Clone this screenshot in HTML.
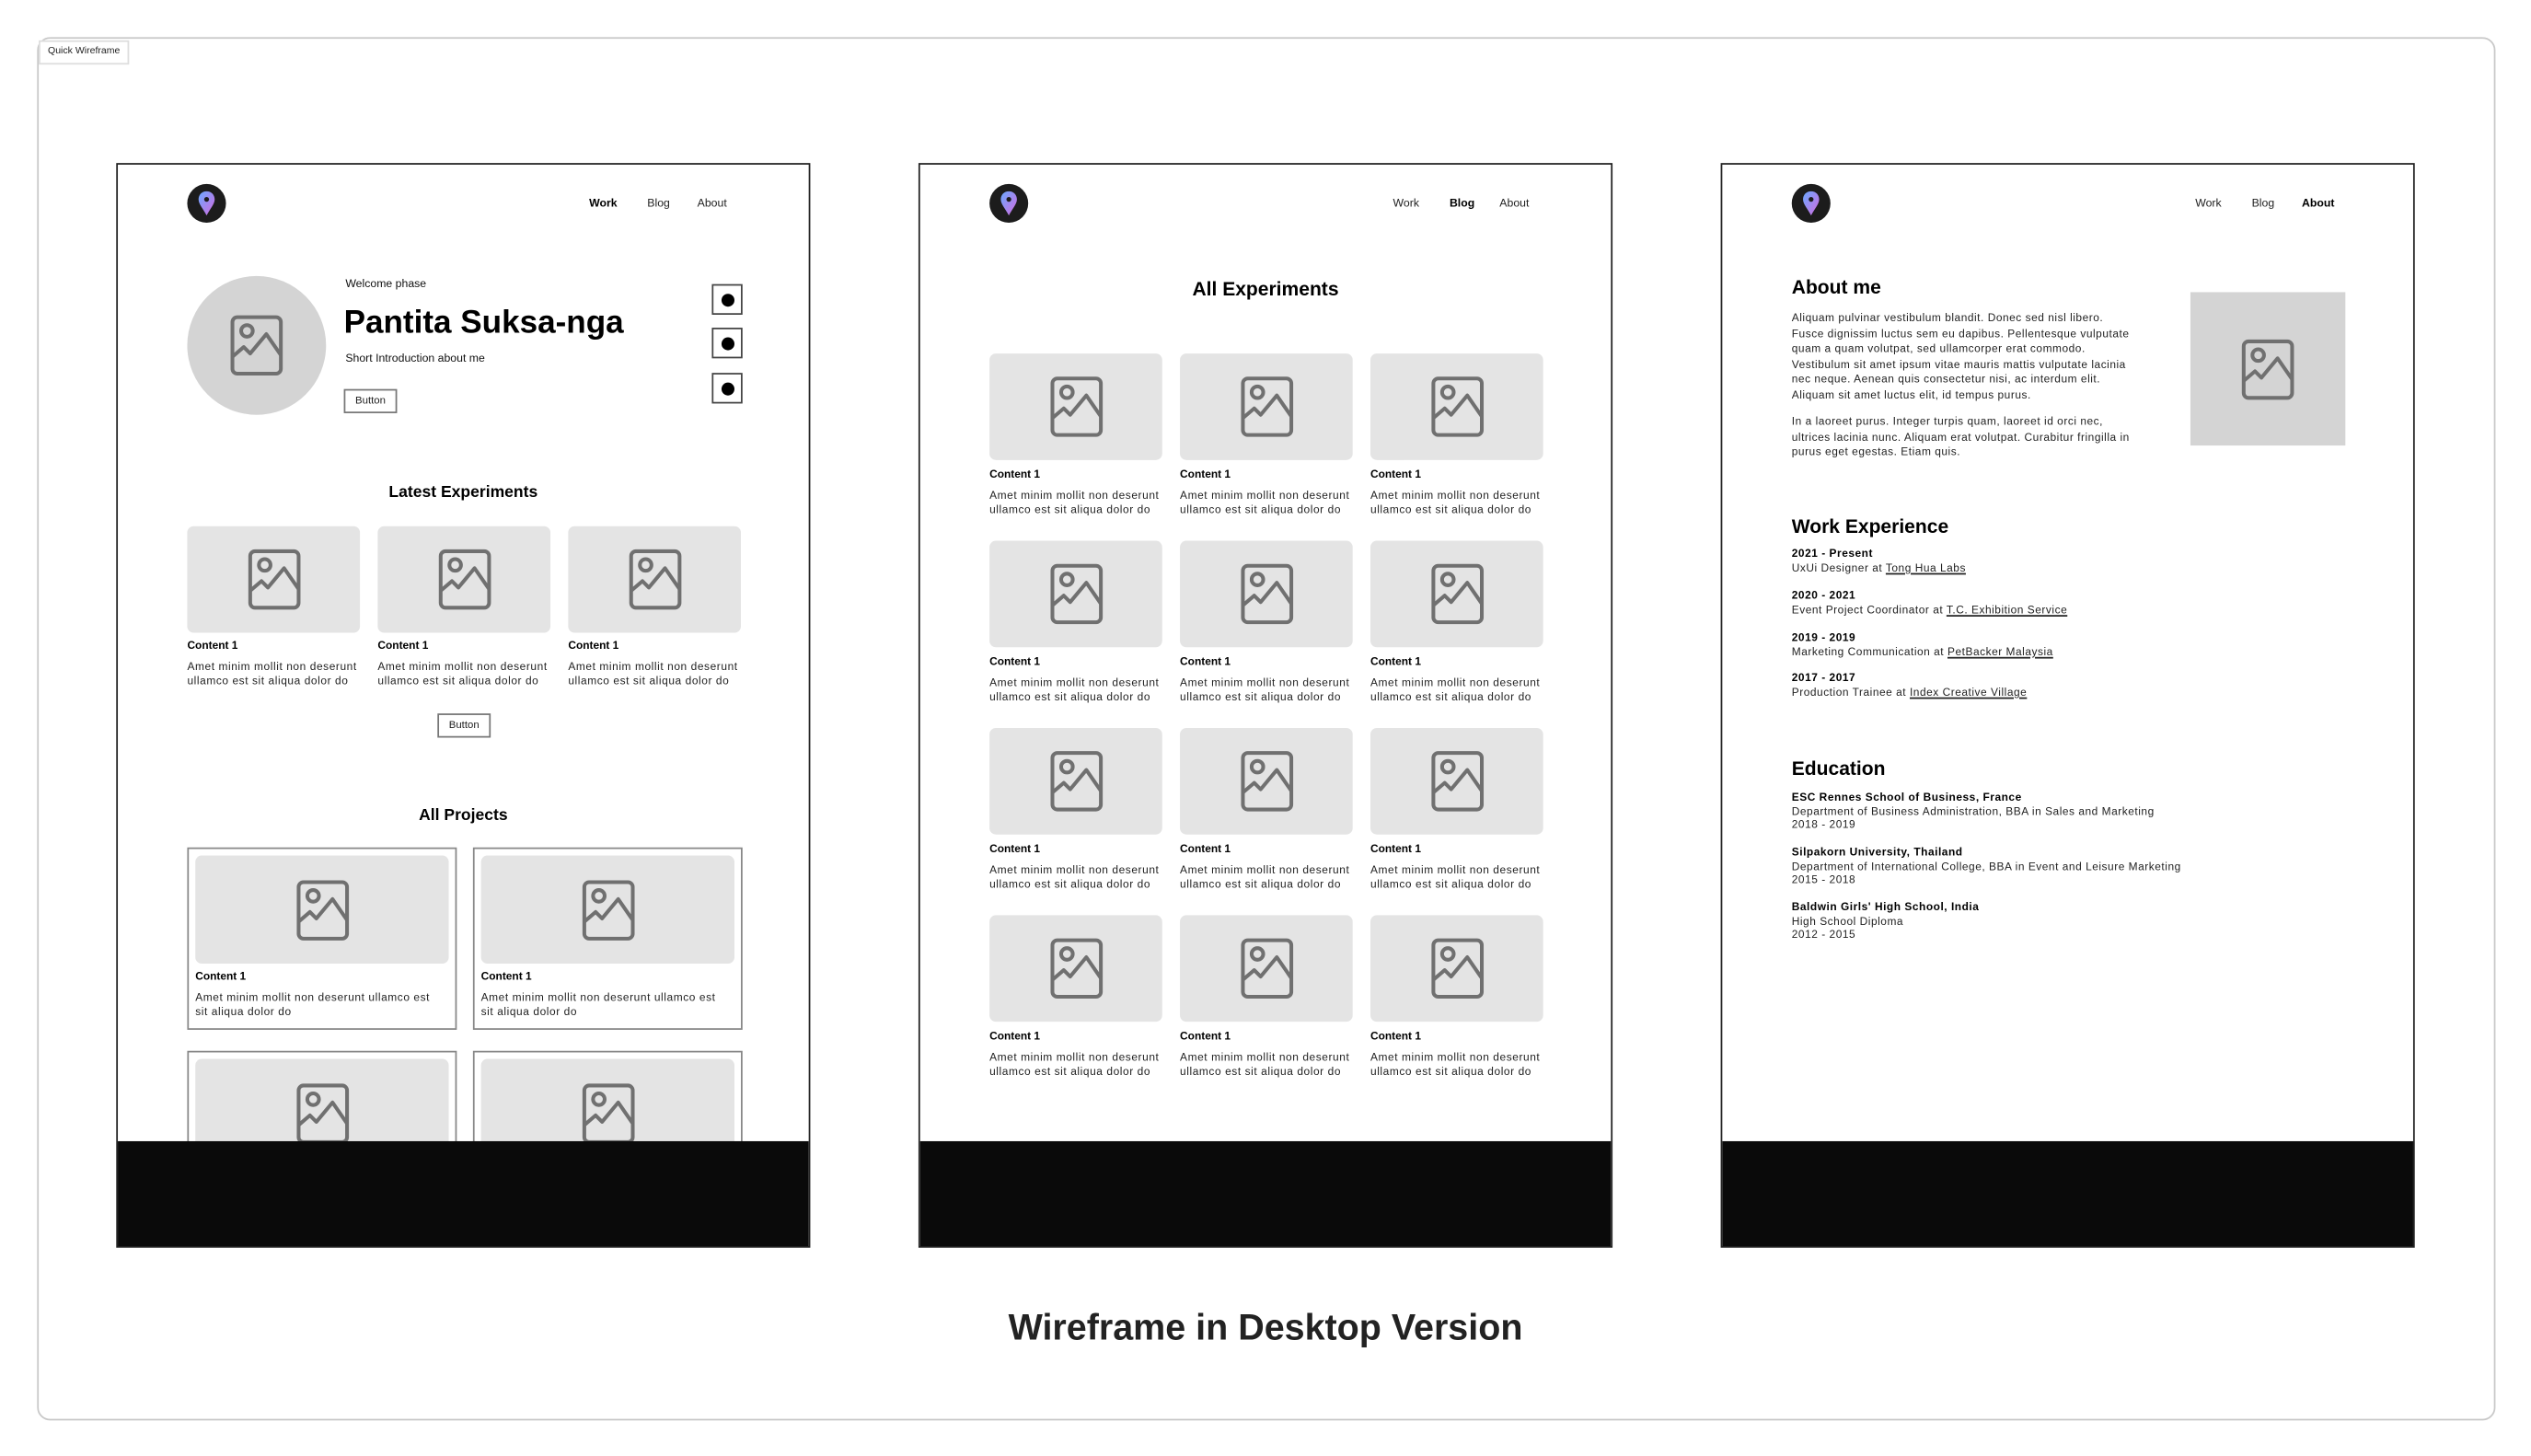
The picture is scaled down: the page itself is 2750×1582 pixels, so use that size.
<!DOCTYPE html>
<html><head><meta charset="utf-8"><style>
html,body{margin:0;padding:0;background:#fff;}
body{width:2750px;height:1582px;overflow:hidden;position:relative;font-family:"Liberation Sans",Arial,sans-serif;color:#111;}
#s{position:absolute;left:0;top:0;width:1568px;height:902px;transform:scale(1.75383);transform-origin:0 0;}
.a{position:absolute;white-space:nowrap;}
.outer{position:absolute;left:23px;top:23px;width:1521px;height:855px;border:1px solid #c8c8c8;border-radius:8px;}
.qw{position:absolute;left:24px;top:25px;width:54px;height:13px;border:1px solid #ddd;font-size:6px;line-height:13px;text-align:center;color:#222;background:#fff;}
.fr{position:absolute;top:101px;width:428px;height:670px;border:1px solid #222;overflow:hidden;background:#fff;}
.foot{position:absolute;left:0;top:605px;width:100%;height:70px;background:#0a0a0a;}
.logo{position:absolute;left:43px;top:12px;width:24px;height:24px;border-radius:50%;background:#1c1c1c;}
.nav{position:absolute;top:21px;font-size:7px;color:#222;}
.b{font-weight:bold;color:#000;}
.card{position:absolute;width:107px;height:66px;background:#e4e4e4;border-radius:4px;}
.card svg,.pc .in svg,.ib svg{position:absolute;left:50%;top:50%;width:38px;height:38px;margin:-19px 0 0 -19px;}
.ct{position:absolute;font-size:6.8px;font-weight:bold;color:#000;}
.cx{position:absolute;font-size:6.8px;line-height:8.8px;color:#222;white-space:nowrap;letter-spacing:0.33px;}
.btn{position:absolute;height:13px;border:1px solid #777;font-size:6.5px;line-height:13px;text-align:center;color:#222;}
.sq{position:absolute;left:368px;width:17px;height:17px;border:1px solid #444;}
.sq:after{content:"";position:absolute;left:5px;top:5px;width:8px;height:8px;border-radius:50%;background:#000;}
.h{position:absolute;font-weight:bold;color:#000;}
.pc{position:absolute;width:165px;height:111px;border:1px solid #888;}
.pc .in{position:absolute;left:4px;top:4px;width:157px;height:67px;background:#e4e4e4;border-radius:4px;}
.p{position:absolute;font-size:6.8px;line-height:9.6px;color:#222;letter-spacing:0.3px;white-space:nowrap;}
.u{text-decoration:underline;}
</style></head><body>
<svg width="0" height="0" style="position:absolute"><defs><symbol id="im" viewBox="0 0 38 38"><rect x="4" y="1.5" width="30" height="35" rx="3" fill="none" stroke="#707070" stroke-width="2.3"/><circle cx="13" cy="10" r="3.6" fill="none" stroke="#707070" stroke-width="2.3"/><polyline points="4,26 11,20 15,24 25,12 34,25" fill="none" stroke="#707070" stroke-width="2.3" stroke-linejoin="round"/></symbol>
<symbol id="pin" viewBox="0 0 24 24"><defs><linearGradient id="g" x1="0" y1="0" x2="1" y2="1"><stop offset="0" stop-color="#6aa8ff"/><stop offset="1" stop-color="#d46be0"/></linearGradient></defs><path d="M12 4.5c-3 0-5 2.2-5 5 0 3 3 6 5 10 2-4 5-7 5-10 0-2.8-2-5-5-5z" fill="url(#g)"/><circle cx="12" cy="9.5" r="1.5" fill="#1c1c1c"/></symbol></defs></svg>
<div id="s">
<div class="outer"></div>
<div class="qw">Quick Wireframe</div>

<!-- Frame 1 -->
<div class="fr" style="left:72px;">
<div class="logo"><svg width="24" height="24"><use href="#pin"/></svg></div>
<div class="nav b" style="left:292px;">Work</div><div class="nav" style="left:328px;">Blog</div><div class="nav" style="left:359px;">About</div>
<div class="a" style="left:43px;top:69px;width:86px;height:86px;border-radius:50%;background:#d4d4d4;"><svg style="position:absolute;left:24px;top:24px" width="38" height="38"><use href="#im"/></svg></div>
<div class="a" style="left:141px;top:71px;font-size:7px;">Welcome phase</div>
<div class="a h" style="left:140px;top:87px;font-size:20px;">Pantita Suksa-nga</div>
<div class="a" style="left:141px;top:117px;font-size:7px;">Short Introduction about me</div>
<div class="btn" style="left:140px;top:139px;width:31px;">Button</div>
<div class="sq" style="top:74px;"></div><div class="sq" style="top:101px;"></div><div class="sq" style="top:129px;"></div>
<div class="h" style="left:0;width:428px;text-align:center;top:198px;font-size:10px;">Latest Experiments</div>
<div class="card" style="left:43px;top:224px;"><svg><use href="#im"/></svg></div>
<div class="card" style="left:161px;top:224px;"><svg><use href="#im"/></svg></div>
<div class="card" style="left:279px;top:224px;"><svg><use href="#im"/></svg></div>
<div class="ct" style="left:43px;top:295px;">Content 1</div><div class="ct" style="left:161px;top:295px;">Content 1</div><div class="ct" style="left:279px;top:295px;">Content 1</div>
<div class="cx" style="left:43px;top:308px;">Amet minim mollit non deserunt<br>ullamco est sit aliqua dolor do</div>
<div class="cx" style="left:161px;top:308px;">Amet minim mollit non deserunt<br>ullamco est sit aliqua dolor do</div>
<div class="cx" style="left:279px;top:308px;">Amet minim mollit non deserunt<br>ullamco est sit aliqua dolor do</div>
<div class="btn" style="left:198px;top:340px;width:31px;">Button</div>
<div class="h" style="left:0;width:428px;text-align:center;top:398px;font-size:10px;">All Projects</div>
<div class="pc" style="left:43px;top:423px;"><div class="in"><svg><use href="#im"/></svg></div><div class="ct" style="left:4px;top:76px;">Content 1</div><div class="cx" style="left:4px;top:89px;">Amet minim mollit non deserunt ullamco est<br>sit aliqua dolor do</div></div>
<div class="pc" style="left:220px;top:423px;"><div class="in"><svg><use href="#im"/></svg></div><div class="ct" style="left:4px;top:76px;">Content 1</div><div class="cx" style="left:4px;top:89px;">Amet minim mollit non deserunt ullamco est<br>sit aliqua dolor do</div></div>
<div class="pc" style="left:43px;top:549px;"><div class="in"><svg><use href="#im"/></svg></div></div>
<div class="pc" style="left:220px;top:549px;"><div class="in"><svg><use href="#im"/></svg></div></div>
<div class="foot"></div>
</div>

<!-- Frame 2 -->
<div class="fr" style="left:569px;">
<div class="logo"><svg width="24" height="24"><use href="#pin"/></svg></div>
<div class="nav" style="left:293px;">Work</div><div class="nav b" style="left:328px;">Blog</div><div class="nav" style="left:359px;">About</div>
<div class="h" style="left:0;width:428px;text-align:center;top:70px;font-size:12px;">All Experiments</div>
<div class="card" style="left:43px;top:117px;"><svg><use href="#im"/></svg></div><div class="card" style="left:161px;top:117px;"><svg><use href="#im"/></svg></div><div class="card" style="left:279px;top:117px;"><svg><use href="#im"/></svg></div>
<div class="ct" style="left:43px;top:189px;">Content 1</div><div class="ct" style="left:161px;top:189px;">Content 1</div><div class="ct" style="left:279px;top:189px;">Content 1</div>
<div class="cx" style="left:43px;top:202px;">Amet minim mollit non deserunt<br>ullamco est sit aliqua dolor do</div><div class="cx" style="left:161px;top:202px;">Amet minim mollit non deserunt<br>ullamco est sit aliqua dolor do</div><div class="cx" style="left:279px;top:202px;">Amet minim mollit non deserunt<br>ullamco est sit aliqua dolor do</div>
<div class="card" style="left:43px;top:233px;"><svg><use href="#im"/></svg></div><div class="card" style="left:161px;top:233px;"><svg><use href="#im"/></svg></div><div class="card" style="left:279px;top:233px;"><svg><use href="#im"/></svg></div>
<div class="ct" style="left:43px;top:305px;">Content 1</div><div class="ct" style="left:161px;top:305px;">Content 1</div><div class="ct" style="left:279px;top:305px;">Content 1</div>
<div class="cx" style="left:43px;top:318px;">Amet minim mollit non deserunt<br>ullamco est sit aliqua dolor do</div><div class="cx" style="left:161px;top:318px;">Amet minim mollit non deserunt<br>ullamco est sit aliqua dolor do</div><div class="cx" style="left:279px;top:318px;">Amet minim mollit non deserunt<br>ullamco est sit aliqua dolor do</div>
<div class="card" style="left:43px;top:349px;"><svg><use href="#im"/></svg></div><div class="card" style="left:161px;top:349px;"><svg><use href="#im"/></svg></div><div class="card" style="left:279px;top:349px;"><svg><use href="#im"/></svg></div>
<div class="ct" style="left:43px;top:421px;">Content 1</div><div class="ct" style="left:161px;top:421px;">Content 1</div><div class="ct" style="left:279px;top:421px;">Content 1</div>
<div class="cx" style="left:43px;top:434px;">Amet minim mollit non deserunt<br>ullamco est sit aliqua dolor do</div><div class="cx" style="left:161px;top:434px;">Amet minim mollit non deserunt<br>ullamco est sit aliqua dolor do</div><div class="cx" style="left:279px;top:434px;">Amet minim mollit non deserunt<br>ullamco est sit aliqua dolor do</div>
<div class="card" style="left:43px;top:465px;"><svg><use href="#im"/></svg></div><div class="card" style="left:161px;top:465px;"><svg><use href="#im"/></svg></div><div class="card" style="left:279px;top:465px;"><svg><use href="#im"/></svg></div>
<div class="ct" style="left:43px;top:537px;">Content 1</div><div class="ct" style="left:161px;top:537px;">Content 1</div><div class="ct" style="left:279px;top:537px;">Content 1</div>
<div class="cx" style="left:43px;top:550px;">Amet minim mollit non deserunt<br>ullamco est sit aliqua dolor do</div><div class="cx" style="left:161px;top:550px;">Amet minim mollit non deserunt<br>ullamco est sit aliqua dolor do</div><div class="cx" style="left:279px;top:550px;">Amet minim mollit non deserunt<br>ullamco est sit aliqua dolor do</div>
<div class="foot"></div>
</div>

<!-- Frame 3 -->
<div class="fr" style="left:1066px;">
<div class="logo"><svg width="24" height="24"><use href="#pin"/></svg></div>
<div class="nav" style="left:293px;">Work</div><div class="nav" style="left:328px;">Blog</div><div class="nav b" style="left:359px;">About</div>
<div class="a h" style="left:43px;top:69px;font-size:12px;">About me</div>
<div class="p" style="left:43px;top:91px;">Aliquam pulvinar vestibulum blandit. Donec sed nisl libero.<br>Fusce dignissim luctus sem eu dapibus. Pellentesque vulputate<br>quam a quam volutpat, sed ullamcorper erat commodo.<br>Vestibulum sit amet ipsum vitae mauris mattis vulputate lacinia<br>nec neque. Aenean quis consectetur nisi, ac interdum elit.<br>Aliquam sit amet luctus elit, id tempus purus.</div>
<div class="p" style="left:43px;top:155px;">In a laoreet purus. Integer turpis quam, laoreet id orci nec,<br>ultrices lacinia nunc. Aliquam erat volutpat. Curabitur fringilla in<br>purus eget egestas. Etiam quis.</div>
<div class="ib a" style="left:290px;top:79px;width:96px;height:95px;background:#d4d4d4;"><svg><use href="#im"/></svg></div>
<div class="a h" style="left:43px;top:217px;font-size:12px;">Work Experience</div>
<div class="p" style="left:43px;top:238px;line-height:8.8px;"><b style="color:#000">2021 - Present</b><br>UxUi Designer at <span class="u">Tong Hua Labs</span></div>
<div class="p" style="left:43px;top:264px;line-height:8.8px;"><b style="color:#000">2020 - 2021</b><br>Event Project Coordinator at <span class="u">T.C. Exhibition Service</span></div>
<div class="p" style="left:43px;top:290px;line-height:8.8px;"><b style="color:#000">2019 - 2019</b><br>Marketing Communication at <span class="u">PetBacker Malaysia</span></div>
<div class="p" style="left:43px;top:315px;line-height:8.8px;"><b style="color:#000">2017 - 2017</b><br>Production Trainee at <span class="u">Index Creative Village</span></div>
<div class="a h" style="left:43px;top:367px;font-size:12px;">Education</div>
<div class="p" style="left:43px;top:389px;line-height:8.6px;"><b style="color:#000">ESC Rennes School of Business, France</b><br>Department of Business Administration, BBA in Sales and Marketing<br>2018 - 2019</div>
<div class="p" style="left:43px;top:423px;line-height:8.6px;"><b style="color:#000">Silpakorn University, Thailand</b><br>Department of International College, BBA in Event and Leisure Marketing<br>2015 - 2018</div>
<div class="p" style="left:43px;top:457px;line-height:8.6px;"><b style="color:#000">Baldwin Girls' High School, India</b><br>High School Diploma<br>2012 - 2015</div>
<div class="foot"></div>
</div>

<div class="a h" style="left:0;width:1568px;text-align:center;top:810px;font-size:22.5px;color:#222;">Wireframe in Desktop Version</div>
</div>
</body></html>
